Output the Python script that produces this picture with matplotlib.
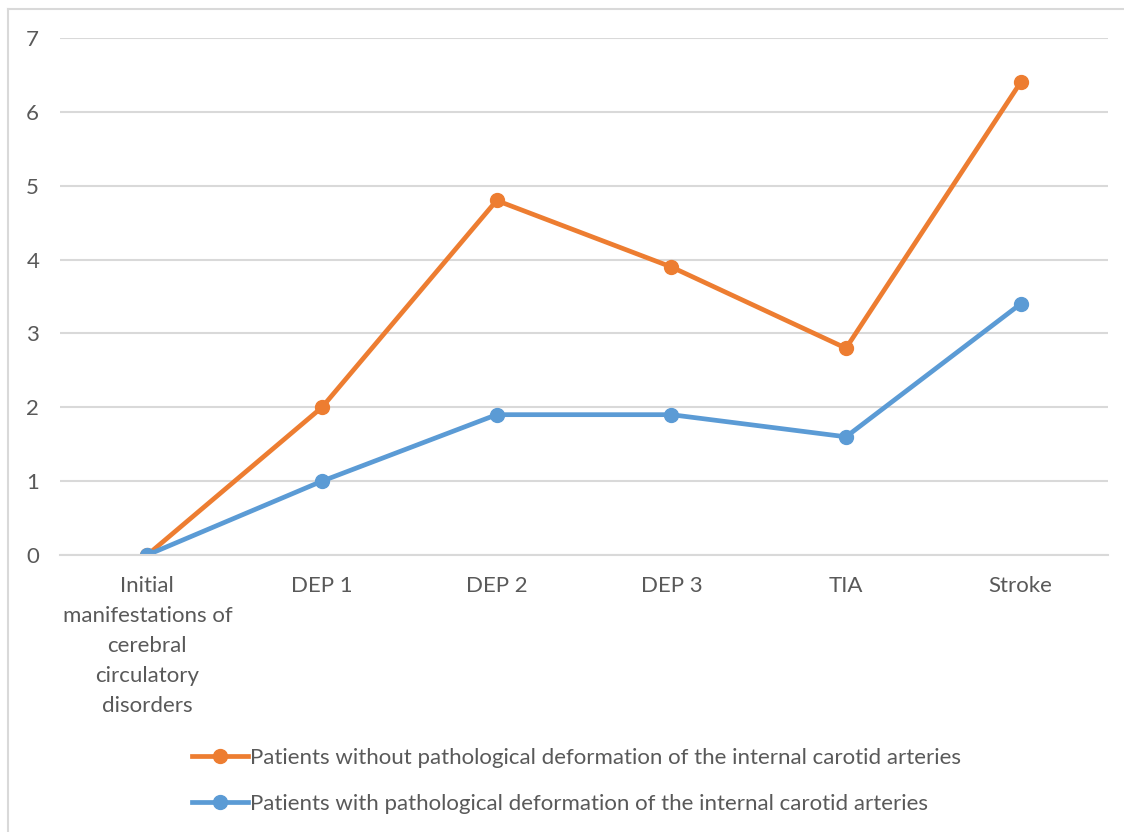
import matplotlib.pyplot as plt
from matplotlib.lines import Line2D

categories = ['Initial\nmanifestations of\ncerebral\ncirculatory\ndisorders',
              'DEP 1', 'DEP 2', 'DEP 3', 'TIA', 'Stroke']
without_def = [0, 2, 4.8, 3.9, 2.8, 6.4]
with_def = [0, 1, 1.9, 1.9, 1.6, 3.4]
labels = ['Patients without pathological deformation of the internal carotid arteries',
          'Patients with pathological deformation of the internal carotid arteries']

plt.rcParams['font.family'] = ['Lato', 'DejaVu Sans']
text_col = '#595959'

fig = plt.figure(figsize=(11.24, 8.32), dpi=100)
ax = fig.add_axes([60 / 1124, 1 - 555 / 832, 1048 / 1124, 517 / 832])

x = list(range(len(categories)))
ax.plot(x, without_def, color='#ed7d31', lw=3.4, marker='o', ms=10, label=labels[0])
ax.plot(x, with_def, color='#5b9bd5', lw=3.4, marker='o', ms=10, label=labels[1])

ax.set_xlim(-0.5, 5.5)
ax.set_ylim(0, 7)
ax.set_yticks(range(8))
ax.set_xticks(x)
ax.set_xticklabels(categories, fontsize=16, color=text_col, linespacing=1.62)
ax.tick_params(axis='y', labelsize=16, labelcolor=text_col, length=0, pad=15)
ax.tick_params(axis='x', length=0, pad=15)
ax.grid(axis='y', color='#d9d9d9', lw=1.5)
ax.set_axisbelow(True)
for s in ['top', 'right', 'left']:
    ax.spines[s].set_visible(False)
ax.spines['bottom'].set_color('#d9d9d9')
ax.spines['bottom'].set_linewidth(1.5)

fig.legend(loc='upper left', bbox_to_anchor=(181 / 1124, 1 - 737 / 832), frameon=False,
           fontsize=16, labelcolor=text_col, handlelength=2.5, handletextpad=0.1,
           labelspacing=1.15, borderpad=0)

# chart area border (left and top visible)
fig.add_artist(Line2D([8 / 1124, 8 / 1124], [0, 1 - 9 / 832], color='#d9d9d9', lw=1.5))
fig.add_artist(Line2D([8 / 1124, 1], [1 - 9 / 832, 1 - 9 / 832], color='#d9d9d9', lw=1.5))

fig.savefig('out.png', dpi=100)
